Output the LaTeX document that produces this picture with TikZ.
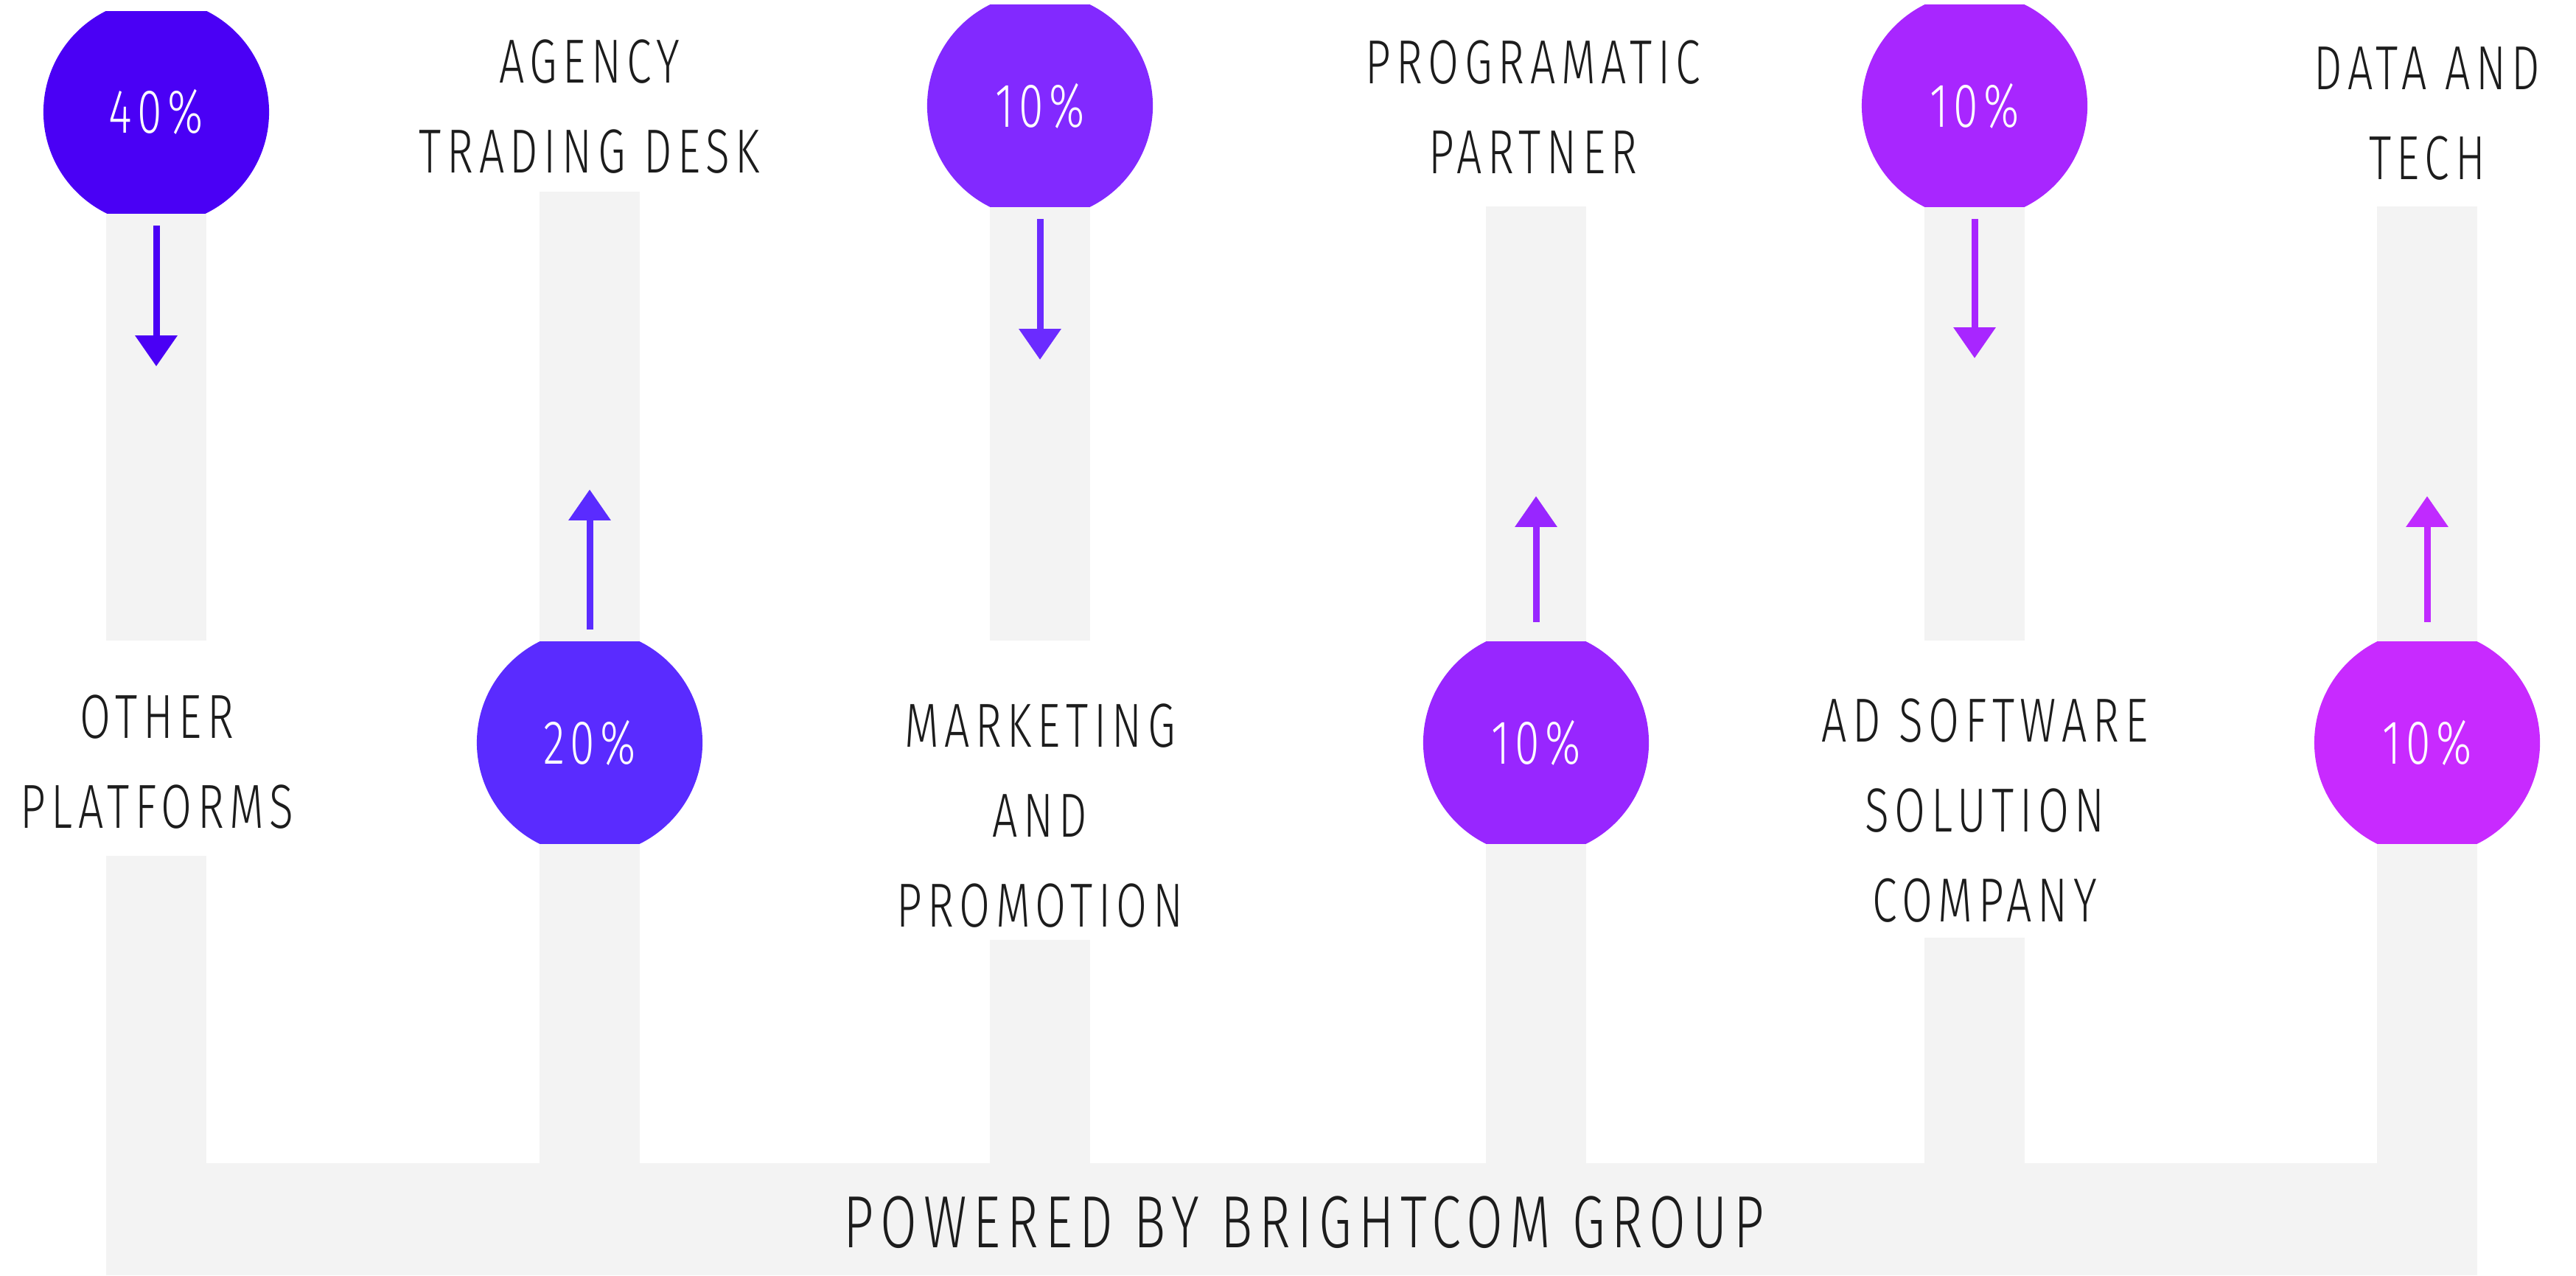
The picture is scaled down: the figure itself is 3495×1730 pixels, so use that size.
\documentclass[tikz,border=0pt]{standalone}
\usepackage{fontspec}
\IfFontExistsTF{Fira Sans Light}
	{\newfontfamily\dinfont{Fira Sans Light}[FakeStretch=0.72,LetterSpace=9]}
	{\newfontfamily\dinfont{Fira Sans}[FakeStretch=0.72,LetterSpace=9]}
\usetikzlibrary{arrows.meta}
\definecolor{barg}{HTML}{F3F3F3}
\definecolor{ink}{HTML}{1C1C1C}
\definecolor{c1}{HTML}{4A00F5}
\definecolor{c2}{HTML}{5A2BFF}
\definecolor{c3}{HTML}{8229FF}
\definecolor{c4}{HTML}{9826FF}
\definecolor{c5}{HTML}{A826FF}
\definecolor{c6}{HTML}{C82AFF}
\definecolor{a3}{HTML}{6B2BFF}
\definecolor{a6}{HTML}{C02AFF}
\begin{document}
\begin{tikzpicture}[x=0.01cm, y=-0.01cm,
		lbl/.style={font=\dinfont\fontsize{24}{34.7}\selectfont, text=ink, align=center, inner sep=0pt},
		pct/.style={circle, minimum size=3.06cm, inner sep=0pt, font=\dinfont\fontsize{24}{28}\selectfont, text=white},
		arr/.style={line width=2.56pt, -{Triangle[length=11.9pt,width=15.7pt]}},
		colbar/.style={fill=barg}]
		\useasboundingbox (0,0) rectangle (3495,1730);
		
		\fill[colbar] (144,289) rectangle (280,869);
		\fill[colbar] (144,1161) rectangle (280,1578);
		\fill[colbar] (732,260) rectangle (868,871);
		\fill[colbar] (732,1144) rectangle (868,1578);
		\fill[colbar] (1343,280) rectangle (1479,869);
		\fill[colbar] (1343,1275) rectangle (1479,1578);
		\fill[colbar] (2016,280) rectangle (2152,871);
		\fill[colbar] (2016,1144) rectangle (2152,1578);
		\fill[colbar] (2611,280) rectangle (2747,869);
		\fill[colbar] (2611,1272) rectangle (2747,1578);
		\fill[colbar] (3225,280) rectangle (3361,871);
		\fill[colbar] (3225,1144) rectangle (3361,1578);
		\fill[colbar] (144,1578) rectangle (3361,1730);
		
		\begin{scope}
			\clip (50,15) rectangle (380,289);
			\node[pct, fill=c1] (p1) at (212,152) {40\%};
		\end{scope}
		\begin{scope}
			\clip (640,870.5) rectangle (960,1144.5);
			\node[pct, fill=c2] (p2) at (800,1007.5) {20\%};
		\end{scope}
		\begin{scope}
			\clip (1250,6.5) rectangle (1570,280.5);
			\node[pct, fill=c3] (p3) at (1411,143.5) {10\%};
		\end{scope}
		\begin{scope}
			\clip (1920,870.5) rectangle (2250,1144.5);
			\node[pct, fill=c4] (p4) at (2084,1007.5) {10\%};
		\end{scope}
		\begin{scope}
			\clip (2520,6.5) rectangle (2840,280.5);
			\node[pct, fill=c5] (p5) at (2679,143.5) {10\%};
		\end{scope}
		\begin{scope}
			\clip (3130,870.5) rectangle (3460,1144.5);
			\node[pct, fill=c6] (p6) at (3293,1007.5) {10\%};
		\end{scope}
		
		\coordinate (t1) at (212,497);
		\coordinate (t2) at (800,664);
		\coordinate (t3) at (1411,488);
		\coordinate (t4) at (2084,673);
		\coordinate (t5) at (2679,486);
		\coordinate (t6) at (3293,673);
		
		\draw[arr, c1] (p1) -- (t1);
		\draw[arr, c2] (p2) -- (t2);
		\draw[arr, a3] (p3) -- (t3);
		\draw[arr, c4, shorten <=0.1cm] (p4) -- (t4);
		\draw[arr, c5] (p5) -- (t5);
		\draw[arr, a6, shorten <=0.1cm] (p6) -- (t6);
		
		\node[lbl] (other) at (213,1033.5) {OTHER\\PLATFORMS};
		\node[lbl] (agency) at (800,145) {AGENCY\\TRADING DESK};
		\node[lbl] (marketing) at (1411,1106.5) {MARKETING\\AND\\PROMOTION};
		\node[lbl] (programatic) at (2080,145) {PROGRAMATIC\\PARTNER};
		\node[lbl] (adsoftware) at (2693,1099.5) {AD SOFTWARE\\SOLUTION\\COMPANY};
		\node[lbl] (datatech) at (3293,154.5) {DATA AND\\TECH};
		
		\node[lbl, font=\dinfont\fontsize{28.5}{34}\selectfont] (powered) at (1769,1658.5) {POWERED BY BRIGHTCOM GROUP};
	\end{tikzpicture}
\end{document}
